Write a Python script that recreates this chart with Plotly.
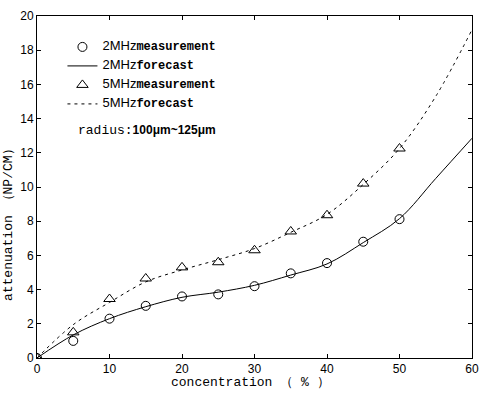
import plotly.graph_objects as go

# Data
conc_meas = [0, 5, 10, 15, 20, 25, 30, 35, 40, 45, 50]
meas_2mhz = [0, 1.0, 2.3, 3.05, 3.6, 3.72, 4.2, 4.95, 5.55, 6.8, 8.12]
meas_5mhz = [0, 1.5, 3.45, 4.65, 5.3, 5.6, 6.3, 7.4, 8.35, 10.2, 12.25]

conc_fc = [0, 5, 10, 15, 20, 25, 30, 35, 40, 45, 50, 55, 60]
fc_2mhz = [0, 1.35, 2.3, 3.0, 3.55, 3.85, 4.25, 4.85, 5.5, 6.75, 8.15, 10.5, 12.85]
fc_5mhz = [0, 1.95, 3.25, 4.45, 5.15, 5.75, 6.4, 7.35, 8.4, 10.15, 12.25, 15.3, 19.2]

x_ticks = [0, 10, 20, 30, 40, 50, 60]
y_ticks = [0, 2, 4, 6, 8, 10, 12, 14, 16, 18, 20]

SANS = "Liberation Sans"
MONO = "Liberation Mono"

def name(freq, word):
    return (f"<span style='font-family:{SANS};font-size:13px'>{freq}</span>"
            f"<span style='font-family:{MONO};font-weight:bold;font-size:12px'>{word}</span>")

fig = go.Figure()
fig.add_trace(go.Scatter(x=conc_meas, y=meas_2mhz, mode="markers", name=name("2MHz", "measurement"),
                         marker=dict(symbol="circle-open", size=9, color="black", line=dict(width=1))))
fig.add_trace(go.Scatter(x=conc_fc, y=fc_2mhz, mode="lines", name=name("2MHz", "forecast"),
                         line=dict(color="black", width=1, shape="spline", smoothing=1.0)))
fig.add_trace(go.Scatter(x=conc_meas, y=meas_5mhz, mode="markers", name=name("5MHz", "measurement"),
                         marker=dict(symbol="triangle-up-open", size=10, color="black", line=dict(width=1))))
fig.add_trace(go.Scatter(x=conc_fc, y=fc_5mhz, mode="lines", name=name("5MHz", "forecast"),
                         line=dict(color="black", width=1, dash="3px,4px", shape="spline", smoothing=1.0)))

axis_common = dict(showgrid=False, zeroline=False, showline=True, linecolor="black", linewidth=1,
                   mirror="allticks", ticks="inside", ticklen=4, tickcolor="black", automargin=False,
                   tickfont=dict(family=SANS, size=12, color="black"))

fig.update_xaxes(range=[0, 60], tickvals=x_ticks, ticktext=[str(v) for v in x_ticks], **axis_common)
fig.update_yaxes(range=[0, 20], tickvals=y_ticks, ticktext=[str(v) for v in y_ticks], **axis_common)

fig.update_layout(
    width=488, height=394,
    margin=dict(l=37, r=16, t=16, b=36, autoexpand=False),
    paper_bgcolor="white", plot_bgcolor="white",
    font=dict(family=SANS, color="black"),
    showlegend=True,
    legend=dict(x=0.0585, y=0.952, xanchor="left", yanchor="top", bgcolor="rgba(0,0,0,0)",
                itemwidth=30, tracegroupgap=0, font=dict(size=9)),
    annotations=[
        dict(text=f"<span style='font-family:{MONO};font-size:13px'>radius:</span>"
                  f"<span style='font-family:{SANS};font-weight:bold;font-size:12px'>100μm~125μm</span>",
             x=0.09, y=0.665, xref="paper", yref="paper", xanchor="left", yanchor="middle",
             showarrow=False),
        dict(text="concentration （ % ）", font=dict(family=MONO, size=13),
             x=0.49, y=-0.073, xref="paper", yref="paper", xanchor="center", yanchor="middle",
             showarrow=False),
        dict(text="attenuation （NP/CM）", font=dict(family=MONO, size=13), textangle=-90,
             x=-0.067, y=0.4, xref="paper", yref="paper", xanchor="center", yanchor="middle",
             showarrow=False),
    ],
)

fig.write_html("out.html", config={"displayModeBar": False},
               post_script="document.body.style.margin='0';document.body.style.overflow='hidden';")
